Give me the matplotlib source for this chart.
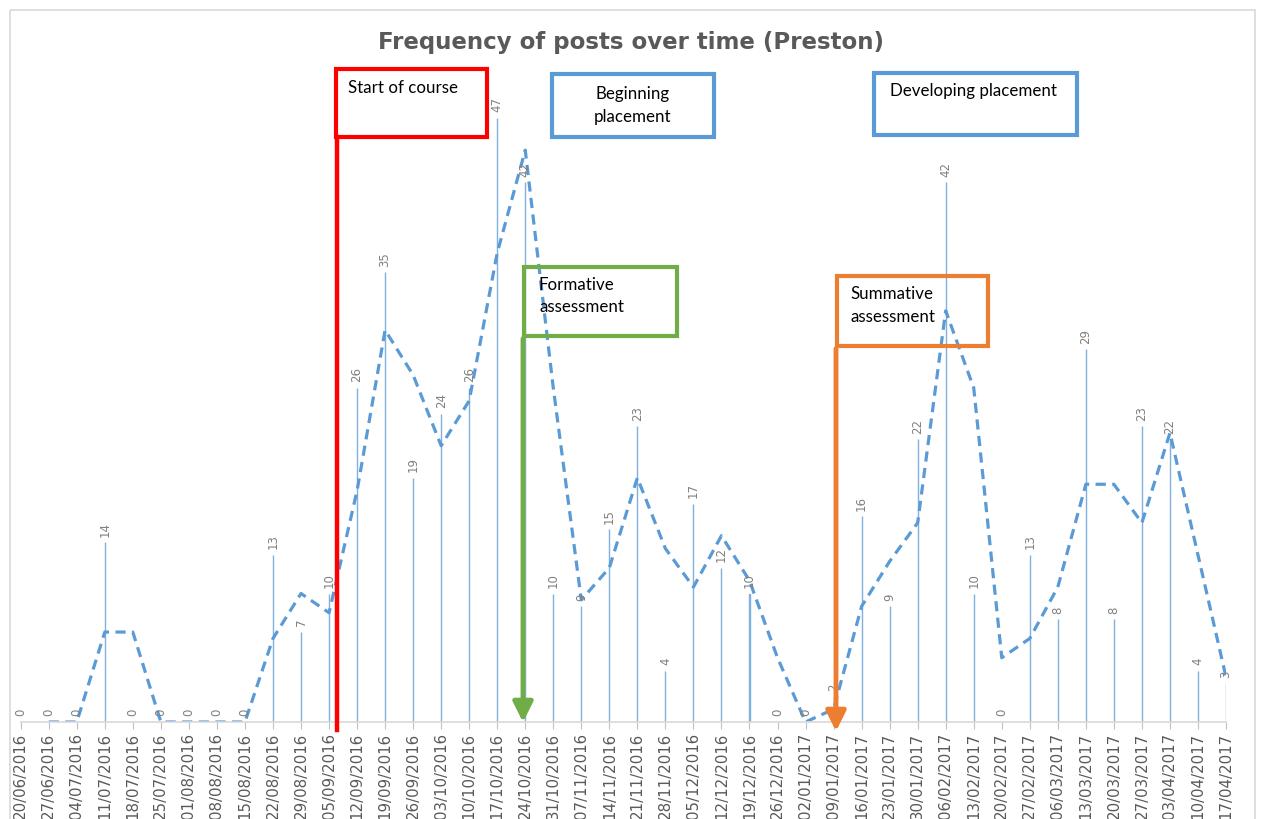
import matplotlib
matplotlib.use("Agg")
import matplotlib.pyplot as plt
import pandas as pd
from matplotlib.patches import Rectangle, FancyArrowPatch
from matplotlib.lines import Line2D
from matplotlib.transforms import Affine2D

# weekly post counts, Preston cohort
weeks = pd.date_range("2016-06-20", periods=44, freq="7D")
week_labels = [d.strftime("%d/%m/%Y") for d in weeks]
posts = [0, 0, 0, 14, 0, 0, 0, 0, 0, 13, 7, 10, 26, 35, 19, 24, 26, 47, 42, 10,
         9, 15, 23, 4, 17, 12, 10, 0, 0, 2, 16, 9, 22, 42, 10, 0, 13, 8, 29, 8,
         23, 22, 4, 3]

# 2-period moving average trendline
trend = pd.Series(posts).rolling(2).mean()

W, H = 1261, 819
fig = plt.figure(figsize=(W / 100, H / 100), dpi=100)
ax = fig.add_axes([20.7 / W, 1 - 722 / H, (1226 - 20.7) / W, (722 - 79.5) / H])

x = list(range(len(posts)))
ax.bar(x, posts, width=0.001, color="#7FB0E0", edgecolor="#7FB0E0", linewidth=1.0)
ax.plot(x, trend, color="#5B9BD5", lw=2.3, ls="--", dashes=(3.2, 2.0))

for xi, v in zip(x, posts):
    ax.annotate(str(v), (xi, v), xytext=(0, 4), textcoords="offset points",
                rotation=90, ha="center", va="bottom", fontsize=8.5, color="#808080")

ax.set_xlim(0, 43)
ax.set_ylim(0, 50)
ax.set_xticks(x)
ax.set_xticklabels(week_labels, rotation=90, fontsize=10.8, color="#595959")
ax.tick_params(axis="x", length=5, color="#BFBFBF", pad=3)
ax.set_yticks([])
for s in ["left", "right", "top"]:
    ax.spines[s].set_visible(False)
ax.spines["bottom"].set_color("#D9D9D9")
ax.spines["bottom"].set_linewidth(1.2)

fig.text(631 / W, 1 - 42 / H, "Frequency of posts over time (Preston)",
         ha="center", va="center", fontsize=16.5, fontweight="bold", color="#595959")

# pixel coordinates measured from the top-left corner
px = Affine2D().scale(1 / W, -1 / H).translate(0, 1) + fig.transFigure

# outer chart border
fig.add_artist(Rectangle((10, 10), 1245, 830, transform=px, fill=False,
                         ec="#D9D9D9", lw=1.2))

def box(x0, y0, x1, y1, color):
    fig.add_artist(Rectangle((x0, y0), x1 - x0, y1 - y0, transform=px,
                             fill=False, ec=color, lw=3, zorder=5))

def label(xp, yp, s, ha="left"):
    fig.text(xp / W, 1 - yp / H, s, ha=ha, va="center", fontsize=12.2,
             family="Lato", color="black", zorder=6)

def arrow(xp, y0, y1, color):
    fig.add_artist(FancyArrowPatch((xp, y0), (xp, y1), transform=px,
                                   arrowstyle="-|>,head_length=0.6,head_width=0.3",
                                   mutation_scale=20, color=color, lw=3.5, zorder=5))

# start of course
fig.add_artist(Line2D([337, 337], [137, 730], transform=px, color="#FF0000", lw=3.2, zorder=5))
box(336, 69, 487, 137, "#FF0000")
label(348, 88, "Start of course")

# placements
box(552, 74, 714, 137, "#5B9BD5")
label(633, 94, "Beginning", ha="center")
label(633, 117, "placement", ha="center")
box(874, 73, 1077, 135, "#5B9BD5")
label(890, 91, "Developing placement")

# assessments
arrow(523, 336, 725, "#70AD47")
box(524, 267, 677, 336, "#70AD47")
label(539, 285, "Formative")
label(539, 307, "assessment")

arrow(836, 346, 734, "#ED7D31")
box(837, 276, 988, 346, "#ED7D31")
label(850, 294, "Summative")
label(850, 317, "assessment")

fig.savefig("out.png", dpi=100)
